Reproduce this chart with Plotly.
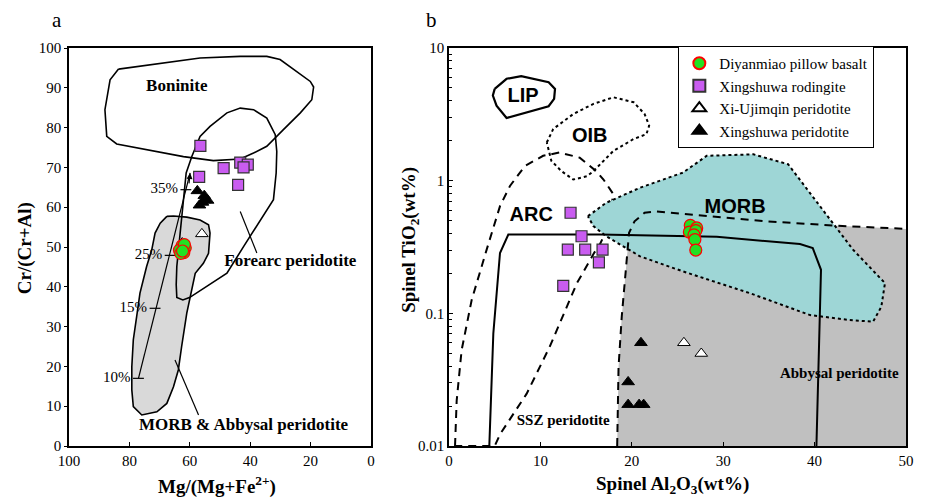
import plotly.graph_objects as go

# ---------------- Panel a data: Mg# vs Cr# ----------------
a_basalt_x = [62.6, 61.5, 63.4, 62.0, 63.0, 61.8, 62.4]
a_basalt_y = [50.3, 49.8, 49.2, 48.6, 48.4, 50.6, 49.0]
a_rod_x = [56.5, 56.9, 48.8, 43.3, 40.8, 42.2, 44.0]
a_rod_y = [75.4, 67.6, 69.8, 71.2, 70.7, 70.0, 65.6]
a_xiu_x = [56.0, 62.5, 55.0]
a_xiu_y = [53.3, 51.0, 61.8]
a_xper_x = [57.5, 55.2, 56.8, 54.1, 55.8]
a_xper_y = [64.1, 62.9, 60.5, 61.7, 61.2]

boninite_x = [83.6, 86.4, 88.1, 87.5, 84.2, 76.5, 62.1, 52.2, 43.3, 38.9, 34.5, 29.0, 23.4, 19.6, 19.0, 20.1, 25.6, 30.1, 34.5, 43.3, 56.6, 72.0, 83.6]
boninite_y = [94.7, 92.0, 84.5, 77.8, 75.9, 74.8, 72.7, 71.7, 72.1, 73.6, 75.3, 79.5, 83.7, 87.0, 90.2, 91.6, 94.6, 97.1, 97.9, 97.9, 97.5, 95.8, 94.7]
forearc_x = [64.5, 64.3, 62.3, 60.1, 54.4, 47.7, 42.2, 37.8, 32.3, 31.4, 31.2, 31.7, 34.5, 38.9, 43.3, 47.7, 53.3, 56.6, 59.3, 61.2, 62.1, 63.2, 64.3, 64.5]
forearc_y = [40.5, 37.3, 36.7, 37.3, 40.1, 43.4, 50.1, 55.2, 61.9, 68.6, 74.0, 78.2, 82.4, 84.5, 84.9, 83.7, 80.3, 77.8, 72.8, 68.6, 61.9, 53.5, 45.1, 40.5]
morb_a_x = [67.6, 65.4, 61.0, 56.6, 53.8, 53.3, 53.8, 55.5, 58.2, 59.3, 61.0, 62.7, 63.8, 65.4, 67.6, 70.9, 75.9, 78.7, 79.2, 79.2, 78.7, 77.6, 76.5, 74.3, 72.6, 71.5, 69.8, 67.6]
morb_a_y = [57.7, 57.8, 57.5, 56.8, 55.6, 53.5, 48.4, 45.9, 43.4, 39.2, 33.4, 25.0, 19.1, 14.9, 10.7, 8.6, 7.8, 9.9, 14.1, 19.9, 26.7, 32.5, 38.4, 45.1, 49.3, 53.5, 56.0, 57.7]

trend_x = [77.0, 59.9]
trend_y = [17.0, 68.6]
melt_labels = ["10%", "15%", "25%", "35%"]
melt_x = [77.0, 71.5, 66.5, 61.3]
melt_y = [17.0, 34.6, 47.9, 64.4]

a_field_labels = ["Boninite", "Forearc peridotite", "MORB & Abbysal peridotite"]
a_field_x = [64.3, 26.7, 42.2]
a_field_y = [90.2, 46.4, 5.0]
a_leader_x = [[43.3, 37.8], [64.9, 57.1]]
a_leader_y = [[58.9, 48.5], [21.6, 7.8]]

# ---------------- Panel b data: Al2O3 vs TiO2 ----------------
b_basalt_x = [26.4, 27.1, 26.3, 27.0, 26.8, 26.9, 27.0]
b_basalt_y = [0.46, 0.44, 0.41, 0.42, 0.39, 0.36, 0.30]
b_rod_x = [13.3, 14.5, 13.0, 14.9, 16.8, 16.4, 12.5]
b_rod_y = [0.573, 0.381, 0.302, 0.302, 0.302, 0.242, 0.161]
b_xiu_x = [25.7, 27.6]
b_xiu_y = [0.060, 0.0498]
b_xper_x = [21.0, 19.6, 19.6, 20.8, 21.3]
b_xper_y = [0.060, 0.0304, 0.0205, 0.0205, 0.0205]

lip_x = [5.0, 6.3, 7.9, 10.9, 11.6, 11.5, 10.9, 6.3, 5.2, 4.8, 5.0]
lip_y = [4.92, 5.86, 6.13, 5.52, 4.92, 4.13, 3.64, 2.97, 3.68, 4.38, 4.92]
oib_x = [10.7, 11.4, 13.6, 15.8, 18.0, 20.2, 21.4, 21.9, 21.6, 20.2, 18.0, 15.8, 15.1, 13.6, 12.3, 11.2, 10.7]
oib_y = [1.94, 2.45, 3.18, 3.79, 4.25, 3.90, 3.18, 2.60, 2.24, 2.06, 1.68, 1.18, 1.08, 1.02, 1.18, 1.41, 1.94]
arc_x = [0.66, 0.84, 1.38, 2.48, 4.12, 5.58, 6.67, 8.31, 10.3, 12.1, 14.3, 16.1, 16.9, 18.0, 17.1, 16.5, 15.9, 14.0, 11.0, 8.5, 5.6, 5.0, 0.66]
arc_y = [0.01, 0.022, 0.0527, 0.126, 0.302, 0.643, 0.912, 1.29, 1.54, 1.63, 1.49, 1.18, 1.02, 0.787, 0.404, 0.330, 0.287, 0.169, 0.0556, 0.0248, 0.0123, 0.01, 0.01]
spinel_x = [4.41, 4.85, 5.58, 6.49, 16.5, 29.3, 38.4, 39.8, 40.7, 40.5, 40.2]
spinel_y = [0.01, 0.0705, 0.285, 0.392, 0.392, 0.377, 0.333, 0.310, 0.213, 0.0705, 0.01]
abyssal_x = [18.4, 18.55, 18.9, 19.35, 19.7, 20.3, 21.4, 22.7, 27.4, 34.7, 42.0, 50.0]
abyssal_y = [0.01, 0.0394, 0.0944, 0.226, 0.404, 0.494, 0.573, 0.586, 0.546, 0.494, 0.459, 0.433]
morb_b_x = [15.2, 17.2, 20.9, 25.6, 28.2, 33.3, 37.1, 42.0, 44.2, 47.7, 47.3, 46.4, 43.8, 39.5, 32.9, 25.6, 20.9, 17.2, 15.8, 15.2]
morb_b_y = [0.540, 0.681, 0.885, 1.15, 1.54, 1.58, 1.33, 0.481, 0.302, 0.169, 0.112, 0.0865, 0.089, 0.097, 0.142, 0.207, 0.269, 0.381, 0.454, 0.540]

b_sans_labels = ["LIP", "OIB", "ARC", "MORB"]
b_sans_x = [8.1, 15.4, 9.0, 31.3]
b_sans_y = [4.25, 2.14, 0.546, 0.624]
b_serif_labels = ["SSZ peridotite", "Abbysal peridotite"]
b_serif_x = [12.5, 42.7]
b_serif_y = [0.0154, 0.0347]

# ---------------- figure ----------------
SERIF = "Liberation Serif"
SANS = "Liberation Sans"
GREEN = "#22e022"
PURPLE = "#c95cf0"

fig = go.Figure()

def line(x, y, xa, ya, dash="solid", width=1.6, fill=None, fillcolor=None, color="black"):
    fig.add_trace(go.Scatter(x=x, y=y, xaxis=xa, yaxis=ya, mode="lines",
                             line=dict(color=color, width=width, dash=dash),
                             fill=fill, fillcolor=fillcolor, showlegend=False, hoverinfo="skip"))

# Panel a fields
line(morb_a_x, morb_a_y, "x", "y", fill="toself", fillcolor="#d9d9d9")
line(boninite_x, boninite_y, "x", "y")
line(forearc_x, forearc_y, "x", "y")
for lx, ly in zip(a_leader_x, a_leader_y):
    line(lx, ly, "x", "y", width=1.2)
line(trend_x, trend_y, "x", "y", width=1.2)
for mx, my in zip(melt_x, melt_y):
    line([mx + 1.8, mx - 1.8], [my, my], "x", "y", width=1.2)
fig.add_trace(go.Scatter(x=[m + 7.2 for m in melt_x], y=melt_y, xaxis="x", yaxis="y", mode="text",
                         text=melt_labels, textfont=dict(family=SERIF, size=15, color="black"),
                         showlegend=False, hoverinfo="skip"))
fig.add_trace(go.Scatter(x=a_field_x, y=a_field_y, xaxis="x", yaxis="y", mode="text",
                         text=["<b>%s</b>" % t for t in a_field_labels],
                         textfont=dict(family=SERIF, size=17, color="black"),
                         showlegend=False, hoverinfo="skip"))

# Panel b fields
line(abyssal_x + [50, 18.4], abyssal_y + [0.01, 0.01], "x2", "y2", width=0, fill="toself",
     fillcolor="#c0c0c0", color="rgba(0,0,0,0)")
line(arc_x, arc_y, "x2", "y2", dash="8px,6px", width=2)
line(morb_b_x, morb_b_y, "x2", "y2", dash="3px,3px", width=2, fill="toself", fillcolor="#9ed6d6")
line(abyssal_x, abyssal_y, "x2", "y2", dash="8px,6px", width=2)
line(oib_x, oib_y, "x2", "y2", dash="3px,3px", width=2)
line(lip_x, lip_y, "x2", "y2", width=2.2)
line(spinel_x, spinel_y, "x2", "y2", width=2)
fig.add_trace(go.Scatter(x=b_sans_x, y=b_sans_y, xaxis="x2", yaxis="y2", mode="text",
                         text=["<b>%s</b>" % t for t in b_sans_labels],
                         textfont=dict(family=SANS, size=20, color="black"),
                         showlegend=False, hoverinfo="skip"))
fig.add_trace(go.Scatter(x=b_serif_x, y=b_serif_y, xaxis="x2", yaxis="y2", mode="text",
                         text=["<b>%s</b>" % t for t in b_serif_labels],
                         textfont=dict(family=SERIF, size=15, color="black"),
                         showlegend=False, hoverinfo="skip"))

# Markers
series = [
    ("Diyanmiao pillow basalt", a_basalt_x, a_basalt_y, b_basalt_x, b_basalt_y,
     dict(symbol="circle", size=12, color=GREEN, line=dict(color="red", width=1.2))),
    ("Xingshuwa rodingite", a_rod_x, a_rod_y, b_rod_x, b_rod_y,
     dict(symbol="square", size=11, color=PURPLE, line=dict(color="#333333", width=1.2))),
    ("Xi-Ujimqin peridotite", a_xiu_x, a_xiu_y, b_xiu_x, b_xiu_y,
     dict(symbol="triangle-up", size=11, color="white", line=dict(color="black", width=1))),
    ("Xingshuwa peridotite", a_xper_x, a_xper_y, b_xper_x, b_xper_y,
     dict(symbol="triangle-up", size=11, color="black", line=dict(color="black", width=1))),
]
for i in [1, 2, 3, 0]:
    name, ax_, ay_, bx_, by_, mk = series[i]
    fig.add_trace(go.Scatter(x=ax_, y=ay_, xaxis="x", yaxis="y", mode="markers", marker=mk,
                             name=name, legendgroup=name, showlegend=False))
for name, ax_, ay_, bx_, by_, mk in series:
    fig.add_trace(go.Scatter(x=bx_, y=by_, xaxis="x2", yaxis="y2", mode="markers", marker=mk,
                             name=name, legendgroup=name, showlegend=True))

# Trend arrow head
fig.add_annotation(x=trend_x[1], y=trend_y[1], ax=trend_x[1] + 0.4, ay=trend_y[1] - 3,
                   xref="x", yref="y", axref="x", ayref="y", showarrow=True,
                   arrowhead=2, arrowsize=1, arrowwidth=1.2, arrowcolor="black", text="")

def axis(ticks, **kw):
    d = dict(showline=True, linecolor="black", linewidth=1.5, mirror=True, showgrid=False,
             zeroline=False, ticks=ticks, ticklen=4, tickcolor="black",
             tickfont=dict(family=SERIF, size=15, color="black"))
    d.update(kw)
    return d

# The page body has an 8px margin, so the figure is shrunk by 8px and margins offset accordingly.
fig.update_layout(
    width=921, height=489,
    margin=dict(l=61, r=23, t=40, b=51),
    paper_bgcolor="white", plot_bgcolor="white",
    xaxis=axis("inside", domain=[0, 0.3608], range=[100, 0], tickvals=[100, 80, 60, 40, 20, 0], anchor="y"),
    yaxis=axis("outside", domain=[0, 1], range=[0, 100], dtick=10, anchor="x", ticklen=3),
    xaxis2=axis("inside", domain=[0.454, 1], range=[0, 50], dtick=10, anchor="y2"),
    yaxis2=axis("inside", domain=[0, 1], type="log", range=[-2, 1], dtick=1, anchor="x2",
                minor=dict(ticks="inside", ticklen=3, tickcolor="black", dtick="D1", showgrid=False)),
    legend=dict(x=0.728, y=1.005, xanchor="left", yanchor="top", bgcolor="white",
                bordercolor="black", borderwidth=1, font=dict(family=SERIF, size=15, color="black"),
                tracegroupgap=0, itemsizing="constant"),
    showlegend=True,
)

def pann(text, x, y, size, angle=0):
    fig.add_annotation(text=text, x=x, y=y, textangle=angle, xanchor="center", yanchor="middle",
                       font=dict(family=SERIF, size=size, color="black"),
                       showarrow=False, xref="paper", yref="paper")

pann("a", -0.0143, 1.07, 21)
pann("b", 0.4325, 1.07, 21)
pann("<b>Mg/(Mg+Fe<sup>2+</sup>)</b>", 0.177, -0.098, 19)
pann("<b>Cr/(Cr+Al)</b>", -0.0526, 0.497, 19, -90)
pann("<b>Spinel Al<sub>2</sub>O<sub>3</sub>(wt%)</b>", 0.7216, -0.098, 19)
pann("<b>Spinel TiO<sub>2</sub>(wt%)</b>", 0.4074, 0.518, 19, -90)

fig.write_html("out.html")
